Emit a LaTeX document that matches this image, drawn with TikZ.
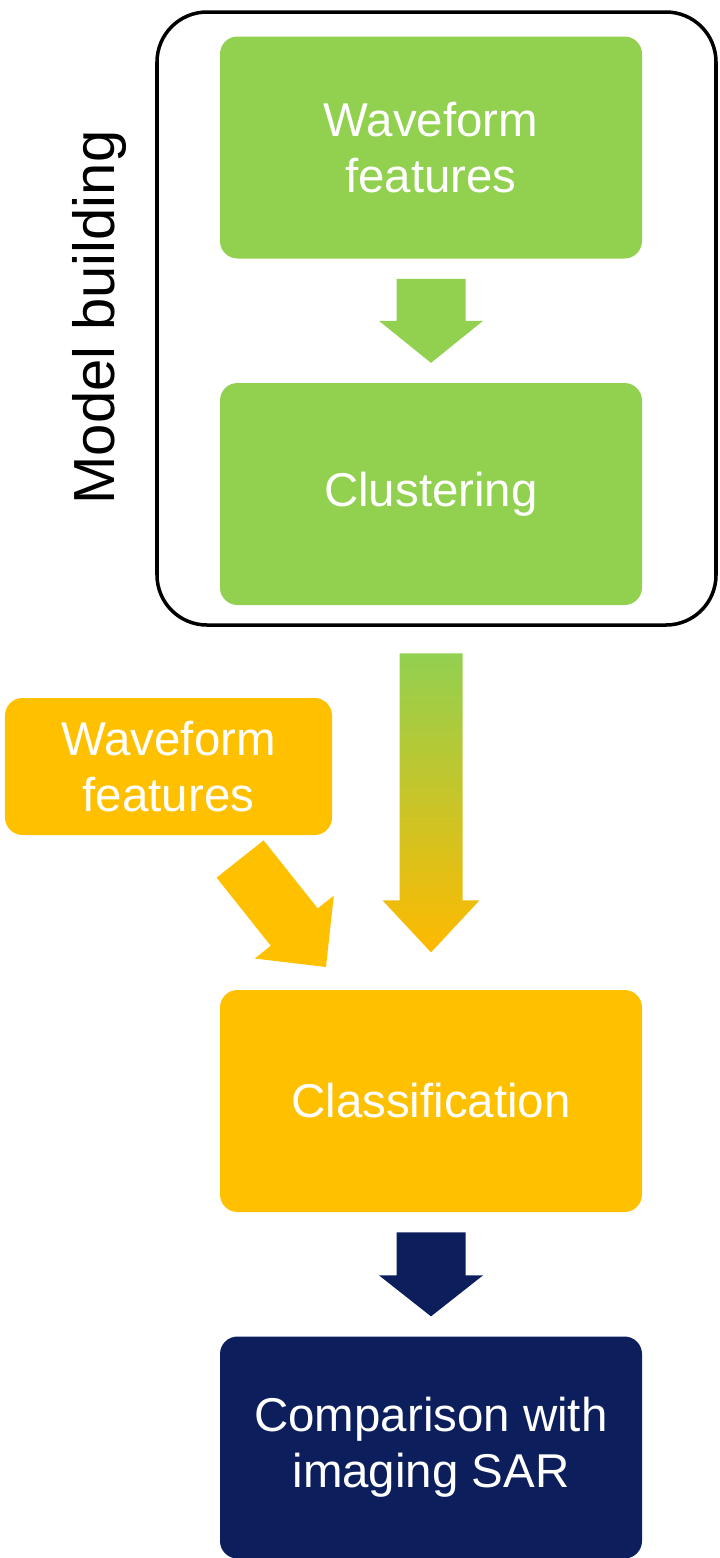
\documentclass[tikz,border=0pt]{standalone}
\usepackage{fontspec}
\setmainfont{Liberation Sans}
\usetikzlibrary{calc}
\definecolor{leaf}{HTML}{92D050}
\definecolor{amber}{HTML}{FFC000}
\definecolor{navy}{HTML}{0C1F5C}
\tikzset{
  stage/.style={rounded corners=0.35cm, minimum width=8.44cm, minimum height=4.44cm,
    text=white, align=center, font=\fontsize{27}{32}\selectfont},
}
% block arrow pointing down: top-centre, shaft half width, shaft length, head half width, head length
\newcommand{\downarrowblock}[6]{%
  \fill[#1] ($(#2)+(-#3,0)$) -- ++(0,-#4) -- ++(#3-#5,0) -- ($(#2)+(0,-#4-#6)$)
    -- ($(#2)+(#5,-#4)$) -- ++(#3-#5,0) -- ($(#2)+(#3,0)$) -- cycle;}
\begin{document}
\begin{tikzpicture}
    \useasboundingbox (0,0) rectangle (14.4,-31.16);
    \draw[line width=2pt, rounded corners=1cm] (3.14,-0.24) rectangle (14.32,-12.5);
    \node[rotate=90, font=\fontsize{33}{36}\selectfont] (model) at (2.0,-6.35) {Model building};
    \node[stage, fill=leaf] (wave) at (8.62,-2.95) {Waveform\\features};
    \node[stage, fill=leaf] (clust) at (8.62,-9.88) {Clustering};
    \node[stage, fill=amber, minimum width=6.54cm, minimum height=2.74cm] (wave2) at (3.37,-15.33) {Waveform\\features};
    \node[stage, fill=amber] (classif) at (8.62,-22.02) {Classification};
    \node[stage, fill=navy] (sar) at (8.62,-28.95) {Comparison with\\imaging SAR};
    % arrows between stages
    \coordinate (a1) at ($(wave.south)+(0,-0.4)$);
    \downarrowblock{leaf}{a1}{0.69}{0.84}{1.04}{0.84}
    \coordinate (a2) at ($(clust.south)+(0,-0.96)$);
    \shade[top color=leaf, bottom color=amber!90!orange]
      ($(a2)+(-0.63,0)$) -- ++(0,-4.94) -- ++(-0.34,0) -- ($(a2)+(0,-5.98)$)
      -- ($(a2)+(0.97,-4.94)$) -- ++(-0.34,0) -- ($(a2)+(0.63,0)$) -- cycle;
    \coordinate (a3) at ($(classif.south)+(0,-0.4)$);
    \downarrowblock{navy}{a3}{0.69}{0.86}{1.04}{0.82}
    % diagonal arrow from the second waveform box
    \coordinate (tip) at (6.52,-19.34);
    \begin{scope}[shift={(tip)}, rotate=-51.5]
      \fill[amber] (-2.76,0.6) -- (-1.02,0.6) -- (-1.02,1.01) -- (0,0)
        -- (-1.02,-1.01) -- (-1.02,-0.6) -- (-2.76,-0.6) -- cycle;
    \end{scope}
\end{tikzpicture}
\end{document}
